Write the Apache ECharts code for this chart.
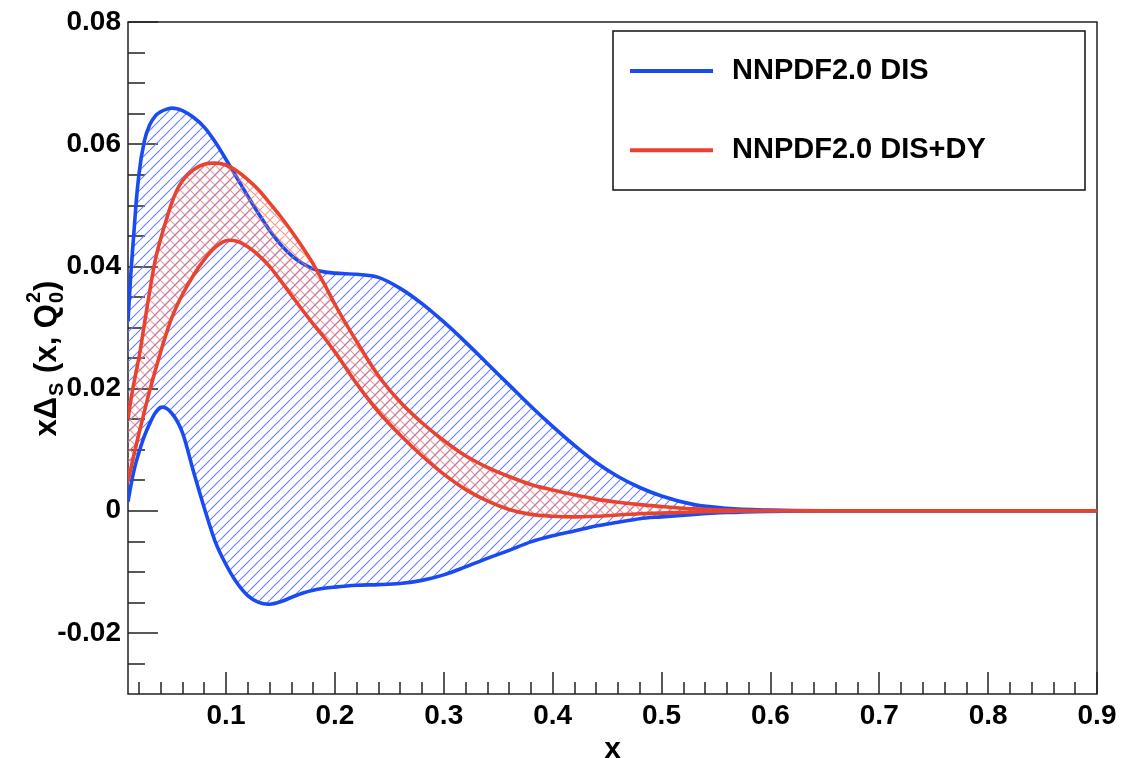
<!DOCTYPE html>
<html>
<head>
<meta charset="utf-8">
<script src="https://cdn.jsdelivr.net/npm/echarts@6/dist/echarts.min.js"></script>
<style>
  html, body { margin: 0; padding: 0; background: #fff; }
  #chart { width: 1132px; height: 758px; }
</style>
</head>
<body>
<div id="chart"></div>
<script>
// Sampling points in x shared by all four curves
const xs = [
  0.01, 0.0125, 0.015, 0.0175, 0.02, 0.025, 0.03, 0.035, 0.04, 0.045,
  0.05, 0.055, 0.06, 0.07, 0.08, 0.09, 0.1, 0.11, 0.12, 0.13,
  0.14, 0.15, 0.16, 0.17, 0.18, 0.19, 0.2, 0.22, 0.24, 0.26,
  0.28, 0.3, 0.32, 0.34, 0.36, 0.38, 0.4, 0.42, 0.44, 0.46,
  0.48, 0.5, 0.53, 0.56, 0.6, 0.65, 0.7, 0.8, 0.9
];

// NNPDF2.0 DIS: upper and lower edge of the uncertainty band
const disHi = [
  0.0310, 0.0385, 0.0445, 0.0505, 0.0550, 0.0605, 0.0632, 0.0646, 0.0653, 0.0657,
  0.0659, 0.0658, 0.0655, 0.0644, 0.0628, 0.0604, 0.0575, 0.0545, 0.0515, 0.0486,
  0.0459, 0.0436, 0.0418, 0.0405, 0.0396, 0.0391, 0.0389, 0.0387, 0.0382, 0.0364,
  0.0339, 0.0309, 0.0276, 0.0241, 0.0206, 0.0171, 0.0138, 0.0107, 0.0079, 0.0056,
  0.0038, 0.0024, 0.0010, 0.0004, 0.0001, 0, 0, 0, 0
];
const disLo = [
  0.0015, 0.0040, 0.0062, 0.0080, 0.0095, 0.0122, 0.0143, 0.0160, 0.0169, 0.0168,
  0.0160, 0.0147, 0.0128, 0.0065, 0.0005, -0.0050, -0.0088, -0.0118, -0.0139, -0.0150,
  -0.0153, -0.0149, -0.0142, -0.0135, -0.0130, -0.0127, -0.0125, -0.0122, -0.0121, -0.0119,
  -0.0114, -0.0105, -0.0092, -0.0078, -0.0065, -0.0051, -0.0041, -0.0033, -0.0025, -0.0019,
  -0.0013, -0.0010, -0.0006, -0.0003, -0.0001, 0, 0, 0, 0
];

// NNPDF2.0 DIS+DY: upper and lower edge of the uncertainty band
const dyHi = [
  0.0150, 0.0180, 0.0205, 0.0228, 0.0250, 0.0305, 0.0360, 0.0410, 0.0445, 0.0475,
  0.0503, 0.0525, 0.0540, 0.0558, 0.0567, 0.0569, 0.0566, 0.0556, 0.0542, 0.0525,
  0.0504, 0.0482, 0.0458, 0.0432, 0.0404, 0.0372, 0.0338, 0.0277, 0.0221, 0.0178,
  0.0144, 0.0115, 0.0090, 0.0071, 0.0056, 0.0043, 0.0034, 0.0026, 0.0019, 0.0014,
  0.0010, 0.0007, 0.0003, 0.0001, 0, 0, 0, 0, 0
];
const dyLo = [
  0.0048, 0.0068, 0.0088, 0.0107, 0.0126, 0.0162, 0.0197, 0.0229, 0.0260, 0.0289,
  0.0315, 0.0336, 0.0354, 0.0385, 0.0411, 0.0431, 0.0442, 0.0441, 0.0432, 0.0418,
  0.0400, 0.0377, 0.0353, 0.0329, 0.0306, 0.0284, 0.0260, 0.0208, 0.0162, 0.0124,
  0.0090, 0.0060, 0.0035, 0.0016, 0.0002, -0.0006, -0.0009, -0.0010, -0.0009, -0.0007,
  -0.0005, -0.0004, -0.0002, -0.0001, 0, 0, 0, 0, 0
];

const seriesNames = ['NNPDF2.0 DIS', 'NNPDF2.0 DIS+DY'];

// Axis ticks and labels
const xTickValues = [0.1, 0.2, 0.3, 0.4, 0.5, 0.6, 0.7, 0.8, 0.9];
const xTickLabels = ['0.1', '0.2', '0.3', '0.4', '0.5', '0.6', '0.7', '0.8', '0.9'];
const xMinorValues = [
  0.02, 0.04, 0.06, 0.08, 0.12, 0.14, 0.16, 0.18, 0.22, 0.24, 0.26, 0.28,
  0.32, 0.34, 0.36, 0.38, 0.42, 0.44, 0.46, 0.48, 0.52, 0.54, 0.56, 0.58,
  0.62, 0.64, 0.66, 0.68, 0.72, 0.74, 0.76, 0.78, 0.82, 0.84, 0.86, 0.88
];
const yTickValues = [-0.02, 0, 0.02, 0.04, 0.06, 0.08];
const yTickLabels = ['-0.02', '0', '0.02', '0.04', '0.06', '0.08'];
const yMinorValues = [
  -0.025, -0.015, -0.01, -0.005, 0.005, 0.01, 0.015, 0.025, 0.03, 0.035,
  0.045, 0.05, 0.055, 0.065, 0.07, 0.075
];

const FONT = '"Liberation Sans", Arial, Helvetica, sans-serif';
const BLUE = '#1a4bf2';
const RED = '#e8432f';

// Diagonal hatch tile; cross=true adds the opposite diagonal
function hatchPattern(color, cross, step) {
  const c = document.createElement('canvas');
  c.width = step; c.height = step;
  const g = c.getContext('2d');
  g.clearRect(0, 0, step, step);
  g.strokeStyle = color;
  g.lineWidth = 1.1;
  g.beginPath();
  for (let k = -1; k <= 1; k++) {
    g.moveTo(k * step, step); g.lineTo(k * step + step, 0);
    if (cross) { g.moveTo(k * step, 0); g.lineTo(k * step + step, step); }
  }
  g.stroke();
  return { image: c, repeat: 'repeat' };
}

// Cubic Hermite Bezier segments through pixel points (three-point tangents)
function splineSegments(pts) {
  const n = pts.length, h = [], d = [], m = new Array(n);
  for (let i = 0; i < n - 1; i++) {
    h[i] = pts[i + 1][0] - pts[i][0];
    d[i] = (pts[i + 1][1] - pts[i][1]) / h[i];
  }
  m[0] = d[0]; m[n - 1] = d[n - 2];
  for (let i = 1; i < n - 1; i++) {
    m[i] = (h[i] * d[i - 1] + h[i - 1] * d[i]) / (h[i - 1] + h[i]);
  }
  // keep flat stretches flat
  for (let i = 0; i < n - 1; i++) {
    if (Math.abs(d[i]) < 1e-9) { m[i] = 0; m[i + 1] = 0; }
  }
  const segs = [];
  for (let i = 0; i < n - 1; i++) {
    const p0 = pts[i], p1 = pts[i + 1], t = h[i] / 3;
    segs.push([p0, [p0[0] + t, p0[1] + m[i] * t], [p1[0] - t, p1[1] - m[i + 1] * t], p1]);
  }
  return segs;
}
function fwdPath(segs) {
  let s = 'M' + segs[0][0][0] + ' ' + segs[0][0][1];
  segs.forEach(g => { s += ' C' + g[1].join(' ') + ' ' + g[2].join(' ') + ' ' + g[3].join(' '); });
  return s;
}
function revPath(segs) {
  let s = '';
  for (let i = segs.length - 1; i >= 0; i--) {
    const g = segs[i];
    s += ' C' + g[2].join(' ') + ' ' + g[1].join(' ') + ' ' + g[0].join(' ');
  }
  return s;
}

// Band between two curves: hatched fill plus the two edge curves
function bandRenderer(hi, lo, pattern, color) {
  return function (params, api) {
    const up = splineSegments(xs.map((x, i) => api.coord([x, hi[i]])));
    const dn = splineSegments(xs.map((x, i) => api.coord([x, lo[i]])));
    const last = dn[dn.length - 1][3];
    const fillD = fwdPath(up) + ' L' + last[0] + ' ' + last[1] + revPath(dn) + ' Z';
    const lineStyle = { fill: 'none', stroke: color, lineWidth: 3.6, lineJoin: 'round', lineCap: 'butt' };
    return {
      type: 'group',
      children: [
        { type: 'path', shape: { pathData: fillD }, style: { fill: pattern, stroke: 'none', opacity: 1 } },
        { type: 'path', shape: { pathData: fwdPath(up) }, style: lineStyle },
        { type: 'path', shape: { pathData: fwdPath(dn) }, style: lineStyle }
      ]
    };
  };
}

function labelFor(values, labels) {
  return function (v) {
    const i = values.findIndex(t => Math.abs(t - v) < 1e-9);
    return i >= 0 ? labels[i] : '';
  };
}

const chart = echarts.init(document.getElementById('chart'), null, { renderer: 'canvas' });

// Rotated y-axis title with sub- and superscripts
const titleParts = [
  { t: 'x\u0394', size: 31, dy: 0, adv: true },
  { t: 'S', size: 20, dy: 10, adv: true },
  { t: ' (x, Q', size: 31, dy: 0, adv: true },
  { t: '0', size: 20, dy: 10, adv: false },
  { t: '2', size: 20, dy: -13, adv: true },
  { t: ')', size: 31, dy: 0, adv: true }
];
const meas = document.createElement('canvas').getContext('2d');
let cursor = 0;
const titleChildren = [];
titleParts.forEach(p => {
  const font = 'bold ' + p.size + 'px ' + FONT;
  meas.font = font;
  const w = meas.measureText(p.t).width;
  titleChildren.push({
    type: 'text', x: cursor, y: p.dy,
    style: { text: p.t, font: font, fill: '#000', align: 'left', verticalAlign: 'middle',
             textAlign: 'left', textVerticalAlign: 'middle' }
  });
  if (p.adv) cursor += w + 1;
});
const titleWidth = cursor;

const tickLine = { color: '#222', width: 1.5 };
const labelFont = { fontFamily: FONT, fontWeight: 'bold', fontSize: 28, color: '#000' };

const option = {
  backgroundColor: '#fff',
  animation: false,
  aria: { enabled: false, decal: { show: false } },
  grid: {
    left: 128, right: 35, top: 22, bottom: 64, show: true, outerBoundsMode: 'none',
    containLabel: false, borderColor: '#222', borderWidth: 1.5, backgroundColor: 'transparent'
  },
  legend: {
    data: seriesNames, left: 630, top: 51, orient: 'vertical', padding: 0,
    itemGap: 39.3, itemWidth: 83, itemHeight: 4, icon: 'rect', selectedMode: false,
    textStyle: { fontFamily: FONT, fontWeight: 'bold', fontSize: 29, color: '#000',
                 lineHeight: 40, padding: [0, 0, 0, 14] },
    z: 10
  },
  xAxis: [
    {
      type: 'value', min: 0.01, max: 0.9, position: 'bottom',
      axisLine: { show: false, onZero: false }, splitLine: { show: false },
      axisTick: { inside: true, length: 22, customValues: xTickValues, lineStyle: tickLine },
      axisLabel: Object.assign({ customValues: xTickValues, formatter: labelFor(xTickValues, xTickLabels),
                                 margin: 8 }, labelFont),
      name: 'x', nameLocation: 'middle', nameGap: 34,
      nameTextStyle: { fontFamily: FONT, fontWeight: 'bold', fontSize: 30, color: '#000' }
    },
    {
      type: 'value', min: 0.01, max: 0.9, position: 'bottom',
      axisLine: { show: false, onZero: false }, splitLine: { show: false }, axisLabel: { show: false },
      axisTick: { inside: true, length: 12, customValues: xMinorValues, lineStyle: tickLine }
    }
  ],
  yAxis: [
    {
      type: 'value', min: -0.03, max: 0.08, position: 'left',
      axisLine: { show: false, onZero: false }, splitLine: { show: false },
      axisTick: { inside: true, length: 30, customValues: yTickValues, lineStyle: tickLine },
      axisLabel: Object.assign({ customValues: yTickValues, formatter: labelFor(yTickValues, yTickLabels),
                                 margin: 7 }, labelFont)
    },
    {
      type: 'value', min: -0.03, max: 0.08, position: 'left',
      axisLine: { show: false, onZero: false }, splitLine: { show: false }, axisLabel: { show: false },
      axisTick: { inside: true, length: 17, customValues: yMinorValues, lineStyle: tickLine }
    }
  ],
  graphic: [
    {
      type: 'rect', z: 5,
      shape: { x: 613, y: 31, width: 472, height: 159 },
      style: { fill: '#fff', stroke: '#111', lineWidth: 1.5 }
    },
    {
      type: 'group', x: 47.5, y: 358 + titleWidth / 2, rotation: Math.PI / 2,
      children: titleChildren
    }
  ],
  series: [
    {
      type: 'custom', name: seriesNames[0], coordinateSystem: 'cartesian2d',
      xAxisIndex: 0, yAxisIndex: 0, data: [[xs[0], disHi[0]]], clip: true, silent: true,
      itemStyle: { color: BLUE }, z: 2,
      renderItem: bandRenderer(disHi, disLo, hatchPattern('rgb(100,125,255)', false, 10), BLUE)
    },
    {
      type: 'custom', name: seriesNames[1], coordinateSystem: 'cartesian2d',
      xAxisIndex: 0, yAxisIndex: 0, data: [[xs[0], dyHi[0]]], clip: true, silent: true,
      itemStyle: { color: RED }, z: 3,
      renderItem: bandRenderer(dyHi, dyLo, hatchPattern('rgba(238,120,110,0.75)', true, 10), RED)
    }
  ]
};

chart.setOption(option);
</script>
</body>
</html>
